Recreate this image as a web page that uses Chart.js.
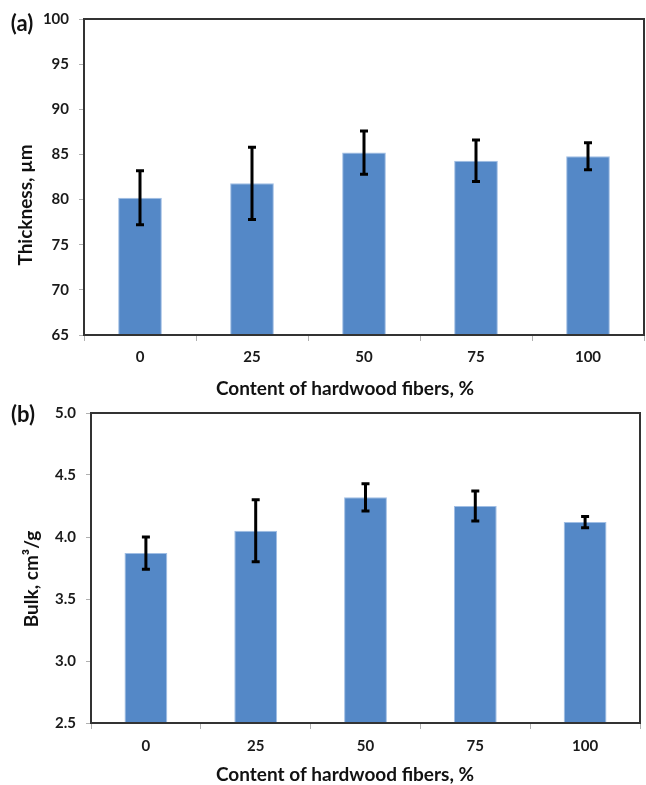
<!DOCTYPE html>
<html><head><meta charset="utf-8">
<script src="https://cdn.jsdelivr.net/npm/chart.js@4.4.0/dist/chart.umd.min.js"></script>
<style>
html,body{margin:0;padding:0;background:#fff;}
#wrap{position:relative;width:646px;height:785px;overflow:hidden;background:#fff;}
.c{position:absolute;left:0;width:646px;}
#c1box{top:0;height:405px;}
#c2box{top:390px;height:398px;}
</style></head><body>
<div id="wrap">
<div class="c" id="c1box"><canvas id="c1"></canvas></div>
<div class="c" id="c2box"><canvas id="c2"></canvas></div>
</div>
<script>
// ---- data ----
const categories = ['0', '25', '50', '75', '100'];
const thickness = [80.2, 81.8, 85.2, 84.3, 84.8];
const thicknessErr = [3.0, 4.0, 2.4, 2.3, 1.5];
const bulk = [3.87, 4.05, 4.32, 4.25, 4.12];
const bulkErr = [0.13, 0.25, 0.11, 0.12, 0.045];
const thicknessAxis = [65, 100, 5];   // min, max, step
const bulkAxis = [2.5, 5.0, 0.5];
const xTitle = 'Content of hardwood fibers, %';
const thicknessTitle = 'Thickness, µm';
const bulkTitle = 'Bulk, cm³/g';

const FONT = 'Lato';
const BAR = 'rgb(84,136,199)';
const BAR_EDGE = 'rgb(160,190,228)';

const errorBars = {
  id: 'errorBars',
  afterDatasetsDraw(chart, args, opts) {
    const {ctx, scales: {y}} = chart;
    const a = chart.chartArea;
    ctx.save();
    ctx.strokeStyle = '#333';
    ctx.lineWidth = 2;
    ctx.strokeRect(a.left, a.top, a.right - a.left, a.bottom - a.top);
    const meta = chart.getDatasetMeta(0);
    const vals = chart.data.datasets[0].data;
    const errs = opts.errors;
    ctx.strokeStyle = '#000';
    ctx.lineWidth = 3;
    ctx.lineCap = 'butt';
    meta.data.forEach((bar, i) => {
      const x = bar.x;
      const t = y.getPixelForValue(vals[i] + errs[i]);
      const b = y.getPixelForValue(vals[i] - errs[i]);
      ctx.beginPath();
      ctx.moveTo(x, t); ctx.lineTo(x, b);
      ctx.moveTo(x - 4, t); ctx.lineTo(x + 4, t);
      ctx.moveTo(x - 4, b); ctx.lineTo(x + 4, b);
      ctx.stroke();
    });
    ctx.restore();
  }
};

const sideLabels = {
  id: 'sideLabels',
  afterDraw(chart, args, opts) {
    const ctx = chart.ctx;
    ctx.save();
    ctx.fillStyle = '#111';
    ctx.textAlign = 'center';
    ctx.textBaseline = 'middle';
    ctx.font = 'bold 22px ' + FONT;
    ctx.fillText(opts.panel, opts.panelX, opts.panelY);
    ctx.font = 'bold 19px ' + FONT;
    ctx.fillText(xTitle, opts.xTitleX, opts.xTitleY);
    ctx.translate(opts.titleX, opts.titleY);
    ctx.rotate(-Math.PI / 2);
    ctx.fillText(opts.title, 0, 0);
    ctx.restore();
  }
};

function makeChart(id, values, errs, axis, cfg) {
  return new Chart(document.getElementById(id), {
    type: 'bar',
    data: {
      labels: categories,
      datasets: [{
        data: values,
        backgroundColor: BAR,
        borderColor: BAR_EDGE,
        borderWidth: 1,
        barPercentage: 0.39,
        categoryPercentage: 1.0
      }]
    },
    plugins: [errorBars, sideLabels],
    options: {
      responsive: true,
      maintainAspectRatio: false,
      animation: false,
      layout: {padding: cfg.padding},
      plugins: {
        legend: {display: false},
        tooltip: {enabled: false},
        errorBars: {errors: errs},
        sideLabels: cfg.labels
      },
      scales: {
        x: {
          grid: {drawOnChartArea: false, tickLength: 6, color: '#b0b0b0', offset: true},
          border: {display: false},
          ticks: {padding: cfg.tickPad, color: '#1a1a1a', font: {family: FONT, size: 15, weight: 'bold'}},
          afterFit: s => { s.height = cfg.xHeight; }
        },
        y: {
          min: axis[0], max: axis[1],
          grid: {drawOnChartArea: false, tickLength: 5, color: '#b0b0b0'},
          border: {display: false},
          ticks: {stepSize: axis[2], padding: 10, color: '#1a1a1a',
                  font: {family: FONT, size: 15, weight: 'bold'},
                  callback: cfg.tickFmt},
          afterFit: s => { s.width = cfg.yWidth; }
        }
      }
    }
  });
}

makeChart('c1', thickness, thicknessErr, thicknessAxis, {
  padding: {top: 17, right: 2, left: 0, bottom: 0},
  xHeight: 70, yWidth: 84, tickPad: 7,
  tickFmt: v => String(v),
  labels: {panel: '(a)', panelX: 22, panelY: 24, title: thicknessTitle, titleX: 26, titleY: 205,
           xTitleX: 345, xTitleY: 389}
});
makeChart('c2', bulk, bulkErr, bulkAxis, {
  padding: {top: 23, right: 6, left: 0, bottom: 0},
  xHeight: 65, yWidth: 91, tickPad: 8,
  tickFmt: v => Number(v).toFixed(1),
  labels: {panel: '(b)', panelX: 23, panelY: 25, title: bulkTitle, titleX: 32, titleY: 189,
           xTitleX: 345, xTitleY: 385}
});
</script>
</body></html>
